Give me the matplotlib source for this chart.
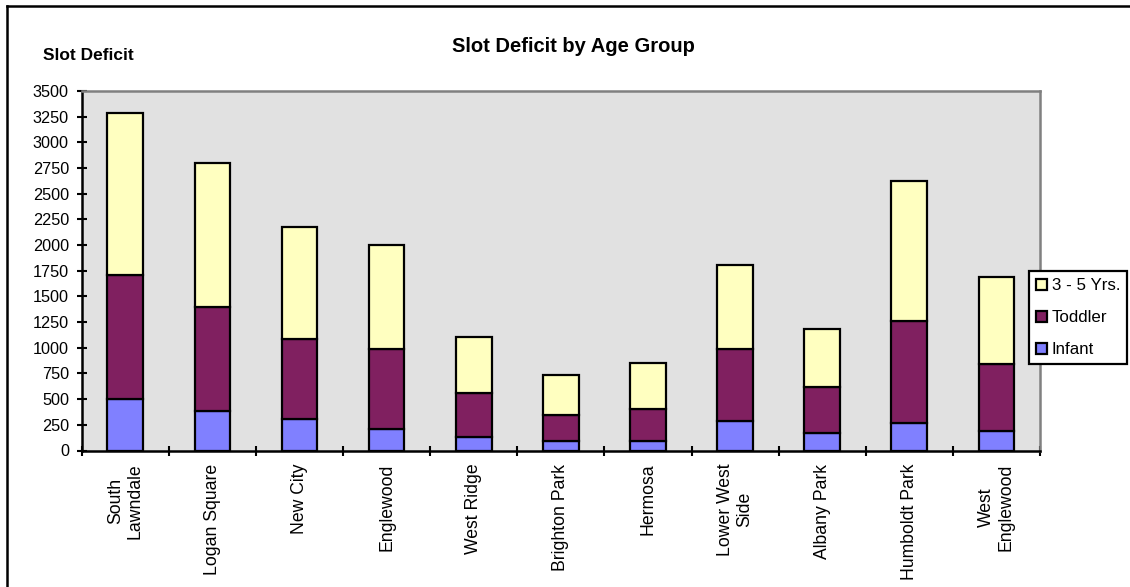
import matplotlib
matplotlib.use("Agg")
import matplotlib.pyplot as plt
from matplotlib.lines import Line2D
import numpy as np

plt.rcParams['font.family'] = ['Liberation Sans', 'DejaVu Sans']

# Community areas and slot deficit by age group
areas = ["South\nLawndale", "Logan Square", "New City", "Englewood", "West Ridge",
         "Brighton Park", "Hermosa", "Lower West\nSide", "Albany Park",
         "Humboldt Park", "West\nEnglewood"]
infant = [500, 380, 305, 210, 130, 90, 90, 285, 170, 265, 190]
toddler = [1210, 1020, 785, 780, 428, 257, 312, 705, 450, 995, 657]
preschool = [1580, 1400, 1085, 1010, 549, 390, 448, 818, 565, 1366, 841]
series_names = ["3 - 5 Yrs.", "Toddler", "Infant"]
y_ticks = list(range(0, 3501, 250))

W, H = 1130, 587
fig = plt.figure(figsize=(W / 100, H / 100), dpi=100)
fig.patch.set_facecolor("white")

ax = fig.add_axes([81.7 / W, 1 - 450.5 / H, (1040 - 81.7) / W, (450.5 - 91) / H])
ax.set_facecolor("#E1E1E1")

x = np.arange(len(areas))
bw = 0.41
ekw = dict(edgecolor="black", linewidth=1.6, width=bw, zorder=3)
b_inf = ax.bar(x, infant, color="#8080FF", **ekw)
b_tod = ax.bar(x, toddler, bottom=infant, color="#802060", **ekw)
b_pre = ax.bar(x, preschool, bottom=np.add(infant, toddler), color="#FFFFC0", **ekw)

ax.set_xlim(-0.5, len(areas) - 0.5)
ax.set_ylim(0, 3500)
ax.set_yticks(y_ticks)
ax.set_yticklabels([str(v) for v in y_ticks], fontsize=11.7)
ax.tick_params(axis="y", direction="inout", length=7.2, width=1.5, pad=5.6, colors="black")

# category boundaries get tick marks; names sit at the centers
ax.set_xticks(np.arange(len(areas) + 1) - 0.5)
ax.set_xticklabels([])
ax.tick_params(axis="x", which="major", direction="inout", length=6.5, width=1.5)
ax.set_xticks(x, minor=True)
ax.set_xticklabels(areas, minor=True, rotation=90, fontsize=12.7,
                   multialignment="center")
ax.tick_params(axis="x", which="minor", length=0, pad=9.4)

for side in ("left", "bottom"):
    ax.spines[side].set_color("black")
    ax.spines[side].set_linewidth(1.8)
for side in ("top", "right"):
    ax.spines[side].set_color("#808080")
    ax.spines[side].set_linewidth(1.8)

fig.text(573 / W, 1 - 46 / H, "Slot Deficit by Age Group", ha="center", va="center",
         fontsize=14.5, fontweight="bold")
fig.text(43 / W, 1 - 56 / H, "Slot Deficit", ha="left", va="center",
         fontsize=12.5, fontweight="bold")

leg = fig.legend([b_pre, b_tod, b_inf], series_names, loc="upper left",
                 bbox_to_anchor=(1029 / W, 1 - 271 / H), borderaxespad=0,
                 fontsize=12.2, frameon=True, fancybox=False, framealpha=1,
                 handlelength=0.62, handleheight=0.62, handletextpad=0.3,
                 labelspacing=1.0, borderpad=0.42)
leg.get_frame().set_edgecolor("black")
leg.get_frame().set_linewidth(1.6)

# outer chart border (top and left edges)
fig.add_artist(Line2D([7 / W, 7 / W], [0, 1 - 6 / H], color="black", linewidth=1.8,
                      transform=fig.transFigure))
fig.add_artist(Line2D([7 / W, 1], [1 - 6 / H, 1 - 6 / H], color="black", linewidth=1.8,
                      transform=fig.transFigure))

fig.savefig("out.png", dpi=100)
